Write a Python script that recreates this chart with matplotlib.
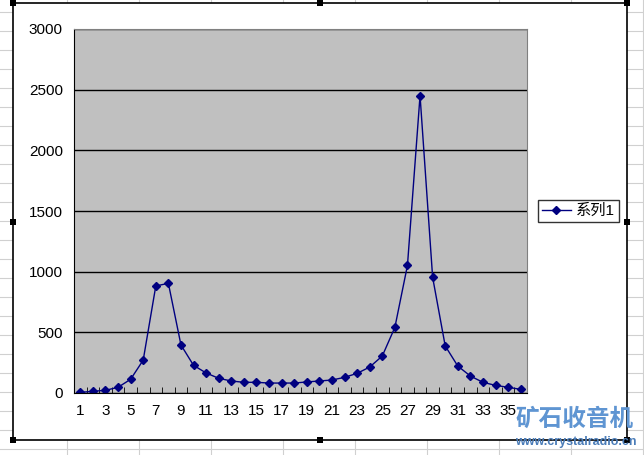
import matplotlib
matplotlib.use("Agg")
import matplotlib.pyplot as plt
from matplotlib.patches import Rectangle
from matplotlib.lines import Line2D

plt.rcParams['font.family'] = ['Liberation Sans', 'Noto Sans CJK SC']

categories = list(range(1, 37))
values = [5, 14, 22, 47, 113, 271, 882, 904, 396, 228, 165, 121, 99, 88, 88, 82,
          82, 82, 91, 99, 107, 129, 162, 214, 305, 541, 1052, 2451, 954, 388,
          222, 140, 88, 63, 47, 30]
xtick_labels = [str(c) for c in categories[::2]]
ytick_values = [0, 500, 1000, 1500, 2000, 2500, 3000]
series_name = "系列1"

W, H = 644, 455
fig = plt.figure(figsize=(W / 100, H / 100), dpi=100)
fig.patch.set_facecolor("white")

# spreadsheet grid behind the chart
for xc in range(67, W, 72):
    fig.add_artist(Line2D([xc / W, xc / W], [0, 1], color="#d0d0d0", lw=0.8, zorder=0))
for yr in range(12, H, 19):
    fig.add_artist(Line2D([0, 1], [1 - yr / H, 1 - yr / H], color="#d0d0d0", lw=0.8, zorder=0))

# chart area
cl, cr, ct, cb = 13, 627, 3, 440
fig.add_artist(Rectangle((cl / W, 1 - cb / H), (cr - cl) / W, (cb - ct) / H,
                         facecolor="white", edgecolor="black", lw=1.2, zorder=1))
# selection handles
hs = 6
for hx in (cl, (cl + cr) / 2, cr):
    for hy in (ct, (ct + cb) / 2, cb):
        if hx == (cl + cr) / 2 and hy == (ct + cb) / 2:
            continue
        fig.add_artist(Rectangle(((hx - hs / 2) / W, 1 - (hy + hs / 2) / H), hs / W, hs / H,
                                 facecolor="black", edgecolor="none", zorder=3))

pl, pr, pt, pb = 74, 527, 29, 393
ax = fig.add_axes([pl / W, 1 - pb / H, (pr - pl) / W, (pb - pt) / H], zorder=2)
ax.set_facecolor("#c0c0c0")
ax.plot(categories, values, color="#000080", lw=1.0, marker="D", markersize=4.3,
        label=series_name)
ax.set_xlim(0.5, 36.5)
ax.set_ylim(0, 3000)
ax.set_yticks(ytick_values)
ax.set_yticklabels([str(v) for v in ytick_values], fontsize=11)
ax.yaxis.grid(True, color="black", lw=1.0)
ax.set_axisbelow(True)
ax.tick_params(axis="y", length=0, pad=8)
ax.set_xticks([c + 0.5 for c in range(0, 37)], minor=True)
ax.set_xticks(categories[::2])
ax.set_xticklabels(xtick_labels, fontsize=11)
ax.tick_params(axis="x", which="major", length=0, pad=8)
ax.tick_params(axis="x", which="minor", direction="in", length=4, color="black")
for s in ("top", "right"):
    ax.spines[s].set_color("#808080")
for s in ("left", "bottom"):
    ax.spines[s].set_color("black")

leg = fig.legend(loc="center left", bbox_to_anchor=(538 / W, 1 - 211 / H), fontsize=11,
                 frameon=True, fancybox=False, edgecolor="black", borderpad=0.25,
                 handlelength=1.9, handletextpad=0.35, borderaxespad=0)
leg.get_frame().set_linewidth(1.0)
leg.set_zorder(4)

# watermark
fig.text(575 / W, 1 - 419 / H, "矿石收音机", fontsize=17, fontweight="bold",
         color="#5f95d2", ha="center", va="center", zorder=5)
fig.text(576 / W, 1 - 442 / H, "www.crystalradio.cn", fontsize=9, fontweight="bold",
         color="#4a7cb8", ha="center", va="center", zorder=5)

fig.savefig("out.png", dpi=100)
